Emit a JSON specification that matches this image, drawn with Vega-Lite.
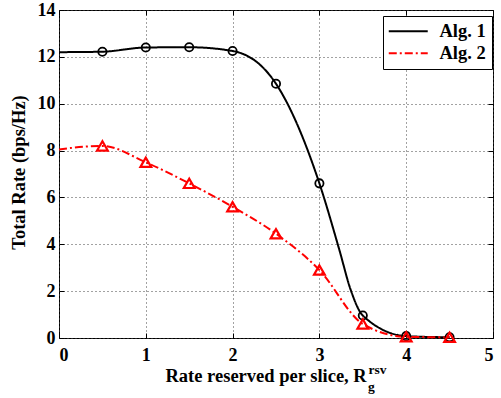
{
  "$schema": "https://vega.github.io/schema/vega-lite/v6.json",
  "width": 434,
  "height": 328,
  "autosize": {"type": "none"},
  "padding": {"left": 59, "top": 10, "right": 8, "bottom": 60},
  "background": "white",
  "config": {
    "view": {"stroke": "black", "strokeWidth": 1},
    "font": "Liberation Serif",
    "axis": {
      "labelFont": "Liberation Serif",
      "labelFontSize": 18,
      "labelFontWeight": "bold",
      "labelColor": "black",
      "titleFont": "Liberation Serif",
      "titleFontSize": 18.5,
      "titleFontWeight": "bold",
      "titleColor": "black",
      "tickColor": "black",
      "tickWidth": 1,
      "tickSize": -5,
      "domain": false,
      "gridColor": "#444",
      "gridDash": [1, 3],
      "gridOpacity": 1,
      "gridWidth": 1
    },
    "legend": {
      "orient": "none",
      "legendX": 324,
      "legendY": 6,
      "title": null,
      "labelFont": "Liberation Serif",
      "labelFontSize": 18.5,
      "labelFontWeight": "bold",
      "labelColor": "black",
      "strokeColor": "black",
      "fillColor": "white",
      "padding": 6,
      "rowPadding": 3,
      "symbolType": "M-2.5,0H2.5",
      "symbolStrokeWidth": 2,
      "symbolSize": 243,
      "symbolOffset": 10,
      "labelOffset": 22
    }
  },
  "datasets": {
    "lines": [
      {"x": 0, "rate": 12.2, "alg": "Alg. 1"},
      {"x": 0.5, "rate": 12.22, "alg": "Alg. 1"},
      {"x": 1, "rate": 12.4, "alg": "Alg. 1"},
      {"x": 1.5, "rate": 12.41, "alg": "Alg. 1"},
      {"x": 2, "rate": 12.25, "alg": "Alg. 1"},
      {"x": 2.5, "rate": 10.85, "alg": "Alg. 1"},
      {"x": 3, "rate": 6.6, "alg": "Alg. 1"},
      {"x": 3.23, "rate": 3.76, "alg": "Alg. 1"},
      {"x": 3.36, "rate": 2.06, "alg": "Alg. 1"},
      {"x": 3.5, "rate": 0.96, "alg": "Alg. 1"},
      {"x": 4, "rate": 0.08, "alg": "Alg. 1"},
      {"x": 4.5, "rate": 0.03, "alg": "Alg. 1"},
      {"x": 0, "rate": 8.05, "alg": "Alg. 2"},
      {"x": 0.5, "rate": 8.2, "alg": "Alg. 2"},
      {"x": 1, "rate": 7.5, "alg": "Alg. 2"},
      {"x": 1.5, "rate": 6.6, "alg": "Alg. 2"},
      {"x": 2, "rate": 5.6, "alg": "Alg. 2"},
      {"x": 2.5, "rate": 4.45, "alg": "Alg. 2"},
      {"x": 3, "rate": 2.9, "alg": "Alg. 2"},
      {"x": 3.5, "rate": 0.6, "alg": "Alg. 2"},
      {"x": 4, "rate": 0.05, "alg": "Alg. 2"},
      {"x": 4.5, "rate": 0.03, "alg": "Alg. 2"}
    ],
    "markers": [
      {"x": 0.5, "rate": 12.22, "alg": "Alg. 1"},
      {"x": 1, "rate": 12.4, "alg": "Alg. 1"},
      {"x": 1.5, "rate": 12.41, "alg": "Alg. 1"},
      {"x": 2, "rate": 12.25, "alg": "Alg. 1"},
      {"x": 2.5, "rate": 10.85, "alg": "Alg. 1"},
      {"x": 3, "rate": 6.6, "alg": "Alg. 1"},
      {"x": 3.5, "rate": 0.96, "alg": "Alg. 1"},
      {"x": 4, "rate": 0.08, "alg": "Alg. 1"},
      {"x": 4.5, "rate": 0.03, "alg": "Alg. 1"},
      {"x": 0.5, "rate": 8.2, "alg": "Alg. 2"},
      {"x": 1, "rate": 7.5, "alg": "Alg. 2"},
      {"x": 1.5, "rate": 6.6, "alg": "Alg. 2"},
      {"x": 2, "rate": 5.6, "alg": "Alg. 2"},
      {"x": 2.5, "rate": 4.45, "alg": "Alg. 2"},
      {"x": 3, "rate": 2.9, "alg": "Alg. 2"},
      {"x": 3.5, "rate": 0.6, "alg": "Alg. 2"},
      {"x": 4, "rate": 0.05, "alg": "Alg. 2"},
      {"x": 4.5, "rate": 0.03, "alg": "Alg. 2"}
    ]
  },
  "resolve": {"axis": {"x": "independent", "y": "independent"}},
  "layer": [
    {
      "data": {"name": "lines"},
      "mark": {"type": "line", "interpolate": "monotone", "strokeWidth": 2},
      "encoding": {
        "x": {
          "field": "x", "type": "quantitative",
          "scale": {"domain": [0, 5], "nice": false, "zero": false},
          "axis": {
            "orient": "bottom",
            "values": [0, 1, 2, 3, 4, 5],
            "grid": true,
            "labelPadding": 13,
            "title": "Rate reserved per slice, R",
            "titleAnchor": "start",
            "titleAlign": "left",
            "titleX": 106,
            "titleY": 43,
            "titleBaseline": "alphabetic"
          }
        },
        "y": {
          "field": "rate", "type": "quantitative",
          "scale": {"domain": [0, 14], "nice": false, "zero": false},
          "axis": {
            "orient": "left",
            "values": [0, 2, 4, 6, 8, 10, 12, 14],
            "grid": true,
            "labelPadding": 9,
            "title": "Total Rate (bps/Hz)",
            "titleX": -35,
            "titleY": 162,
            "titleBaseline": "alphabetic"
          }
        },
        "color": {
          "field": "alg", "type": "nominal",
          "scale": {"domain": ["Alg. 1", "Alg. 2"], "range": ["black", "red"]}
        },
        "strokeDash": {
          "field": "alg", "type": "nominal",
          "scale": {"domain": ["Alg. 1", "Alg. 2"], "range": [[1, 0], [8, 3, 2, 3]]}
        }
      }
    },
    {
      "data": {"name": "markers"},
      "transform": [{"filter": "datum.alg === 'Alg. 1'"}],
      "mark": {"type": "point", "shape": "circle", "filled": false, "stroke": "black", "strokeWidth": 1.8, "size": 68, "opacity": 1},
      "encoding": {
        "x": {"field": "x", "type": "quantitative",
              "axis": {"orient": "top", "values": [0, 1, 2, 3, 4, 5], "labels": false, "grid": false, "title": null}},
        "y": {"field": "rate", "type": "quantitative",
              "axis": {"orient": "right", "values": [0, 2, 4, 6, 8, 10, 12, 14], "labels": false, "grid": false, "title": null}}
      }
    },
    {
      "data": {"name": "markers"},
      "transform": [{"filter": "datum.alg === 'Alg. 2'"}],
      "mark": {"type": "point", "shape": "triangle-up", "filled": false, "stroke": "red", "strokeWidth": 2.2, "size": 115, "opacity": 1},
      "encoding": {
        "x": {"field": "x", "type": "quantitative", "axis": null},
        "y": {"field": "rate", "type": "quantitative", "axis": null}
      }
    },
    {
      "data": {"values": [{"t": "rsv"}]},
      "mark": {"type": "text", "align": "left", "baseline": "alphabetic", "font": "Liberation Serif", "fontWeight": "bold", "fontSize": 13.5, "color": "black", "clip": false},
      "encoding": {
        "x": {"datum": 3.566, "type": "quantitative", "axis": null},
        "y": {"datum": -1.55, "type": "quantitative", "axis": null},
        "text": {"field": "t"}
      }
    },
    {
      "data": {"values": [{"t": "g"}]},
      "mark": {"type": "text", "align": "left", "baseline": "alphabetic", "font": "Liberation Serif", "fontWeight": "bold", "fontSize": 13.5, "color": "black", "clip": false},
      "encoding": {
        "x": {"datum": 3.56, "type": "quantitative", "axis": null},
        "y": {"datum": -2.25, "type": "quantitative", "axis": null},
        "text": {"field": "t"}
      }
    }
  ]
}
